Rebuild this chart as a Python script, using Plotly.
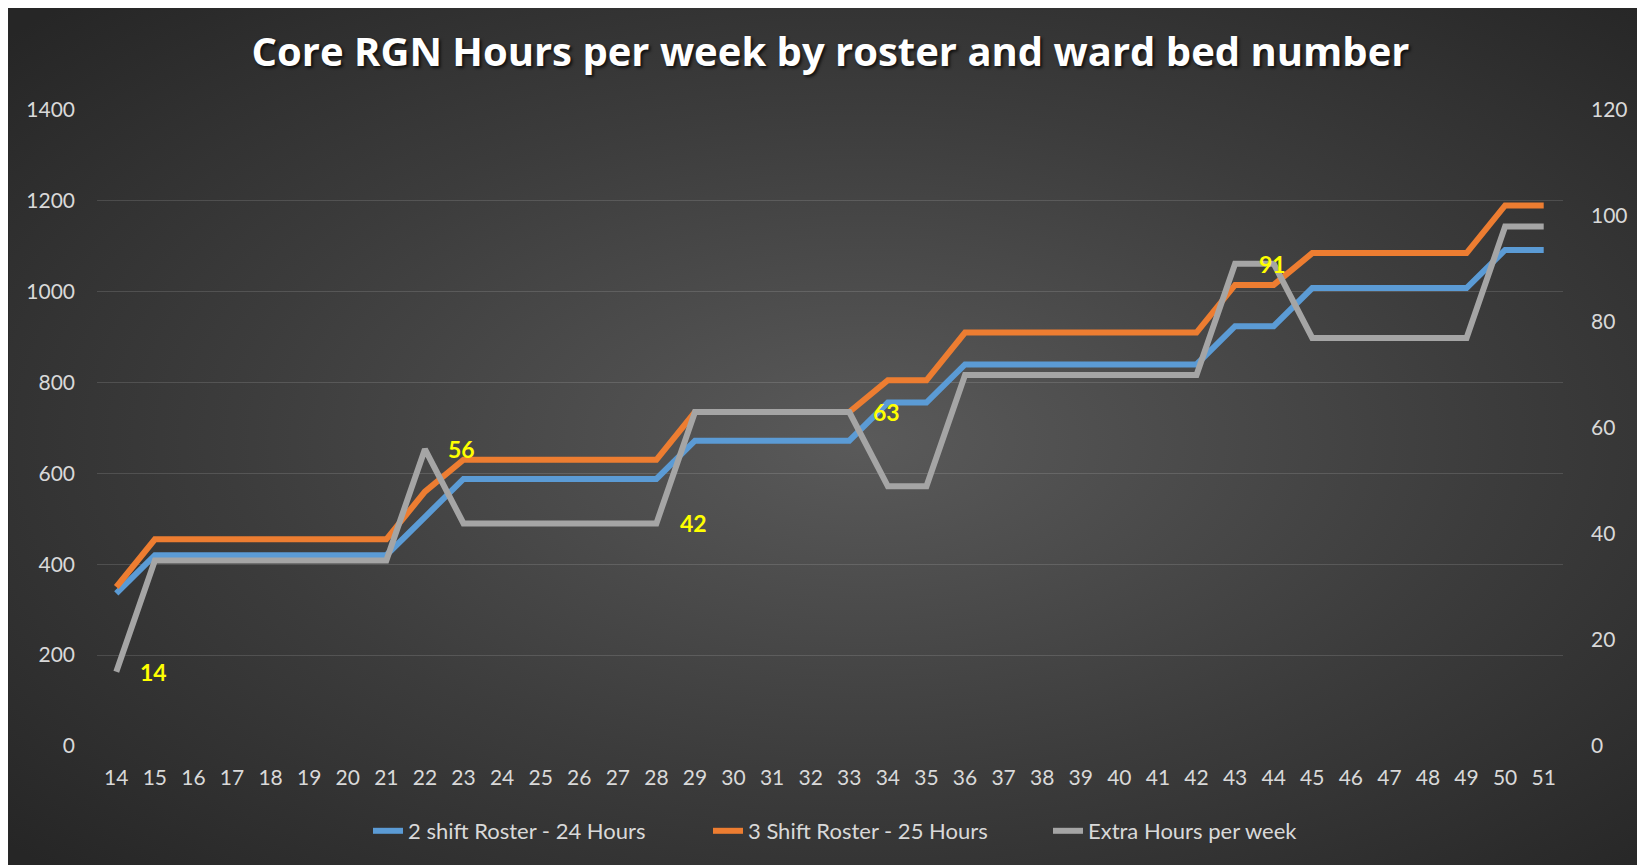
import base64
import plotly.graph_objects as go

# ---- data ----
beds = list(range(14, 52))
two_shift = [336, 420, 420, 420, 420, 420, 420, 420, 504, 588, 588, 588, 588, 588, 588,
             672, 672, 672, 672, 672, 756, 756, 840, 840, 840, 840, 840, 840, 840,
             924, 924, 1008, 1008, 1008, 1008, 1008, 1092, 1092]
three_shift = [350, 455, 455, 455, 455, 455, 455, 455, 560, 630, 630, 630, 630, 630, 630,
               735, 735, 735, 735, 735, 805, 805, 910, 910, 910, 910, 910, 910, 910,
               1015, 1015, 1085, 1085, 1085, 1085, 1085, 1190, 1190]
extra = [14, 35, 35, 35, 35, 35, 35, 35, 56, 42, 42, 42, 42, 42, 42,
         63, 63, 63, 63, 63, 49, 49, 70, 70, 70, 70, 70, 70, 70,
         91, 91, 77, 77, 77, 77, 77, 98, 98]
labelled_beds = [14, 22, 28, 33, 43]
series_names = ["2 shift Roster - 24 Hours", "3 Shift Roster - 25 Hours", "Extra Hours per week"]
colors = ["#5B9BD5", "#ED7D31", "#A5A5A5"]
title_text = "Core RGN Hours per week by roster and ward bed number"

# ---- layout geometry (figure coords; page body adds an 8px offset) ----
W, H = 1645, 865
ML, MR, MT, MB = 88.5, 90, 102, 127
PW, PH = W - ML - MR, H - MT - MB
FONT = "Lato, 'Open Sans', sans-serif"
TXT = "#d9d9d9"

fig = go.Figure()
fig.add_trace(go.Scatter(x=beds, y=two_shift, name=series_names[0], mode="lines",
                         line=dict(color=colors[0], width=6)))
fig.add_trace(go.Scatter(x=beds, y=three_shift, name=series_names[1], mode="lines",
                         line=dict(color=colors[1], width=6)))
fig.add_trace(go.Scatter(x=beds, y=extra, name=series_names[2], mode="lines", yaxis="y2",
                         line=dict(color=colors[2], width=6)))

for b in labelled_beds:
    v = extra[beds.index(b)]
    fig.add_annotation(x=b, y=v, xref="x", yref="y2", text=f"<b>{v}</b>", showarrow=False,
                       xshift=37, yshift=0,
                       font=dict(family=FONT, size=23, color="#FFFF00"))

# background radial gradient (svg data uri) covering the whole figure
svg = (f'<svg xmlns="http://www.w3.org/2000/svg" width="{W}" height="{H}" '
       f'viewBox="0 0 {W} {H}" preserveAspectRatio="none">'
       '<defs><radialGradient id="g" cx="52%" cy="50%" r="70%">'
       '<stop offset="0" stop-color="#5a5a5a"/><stop offset="0.55" stop-color="#3c3c3c"/>'
       '<stop offset="1" stop-color="#262626"/></radialGradient></defs>'
       f'<rect width="{W}" height="{H}" fill="url(#g)"/></svg>')
src = "data:image/svg+xml;base64," + base64.b64encode(svg.encode()).decode()
fig.add_layout_image(dict(source=src, xref="paper", yref="paper",
                          x=-ML / PW, y=(H - MB) / PH,
                          sizex=W / PW, sizey=H / PH,
                          xanchor="left", yanchor="top", sizing="stretch", layer="below"))

fig.update_layout(
    width=W, height=H,
    margin=dict(l=ML, r=MR, t=MT, b=MB),
    paper_bgcolor="#2a2a2a", plot_bgcolor="rgba(0,0,0,0)",
    title=dict(text=f"<b>{title_text}</b>", x=0.5, xanchor="center", y=1 - 44 / H, yanchor="middle",
               font=dict(family="'Open Sans', sans-serif", size=40, color="white",
                         shadow="2px 2px 3px rgba(0,0,0,0.7)")),
    xaxis=dict(range=[13.5, 51.5], tickmode="array", tickvals=beds, ticktext=[str(b) for b in beds],
               showgrid=False, zeroline=False, showline=False, ticks="",
               ticklabelstandoff=17,
               tickfont=dict(family=FONT, size=21, color=TXT)),
    yaxis=dict(range=[0, 1400], dtick=200, showgrid=True, gridcolor="rgba(255,255,255,0.13)",
               gridwidth=1.3, zeroline=False, showline=False, ticks="", ticklabelstandoff=21,
               tickfont=dict(family=FONT, size=21, color=TXT)),
    yaxis2=dict(range=[0, 120], dtick=20, overlaying="y", side="right", showgrid=False,
                zeroline=False, showline=False, ticks="", ticklabelstandoff=27,
                tickfont=dict(family=FONT, size=21, color=TXT)),
    legend=dict(orientation="h", x=0.5 + 48 / PW, xanchor="center", y=-(823 - (H - MB)) / PH,
                yanchor="middle",
                font=dict(family=FONT, size=22, color=TXT), bgcolor="rgba(0,0,0,0)",
                itemwidth=30, entrywidth=295, entrywidthmode="pixels", traceorder="normal"),
    showlegend=True,
)

fig.write_html("out.html")
